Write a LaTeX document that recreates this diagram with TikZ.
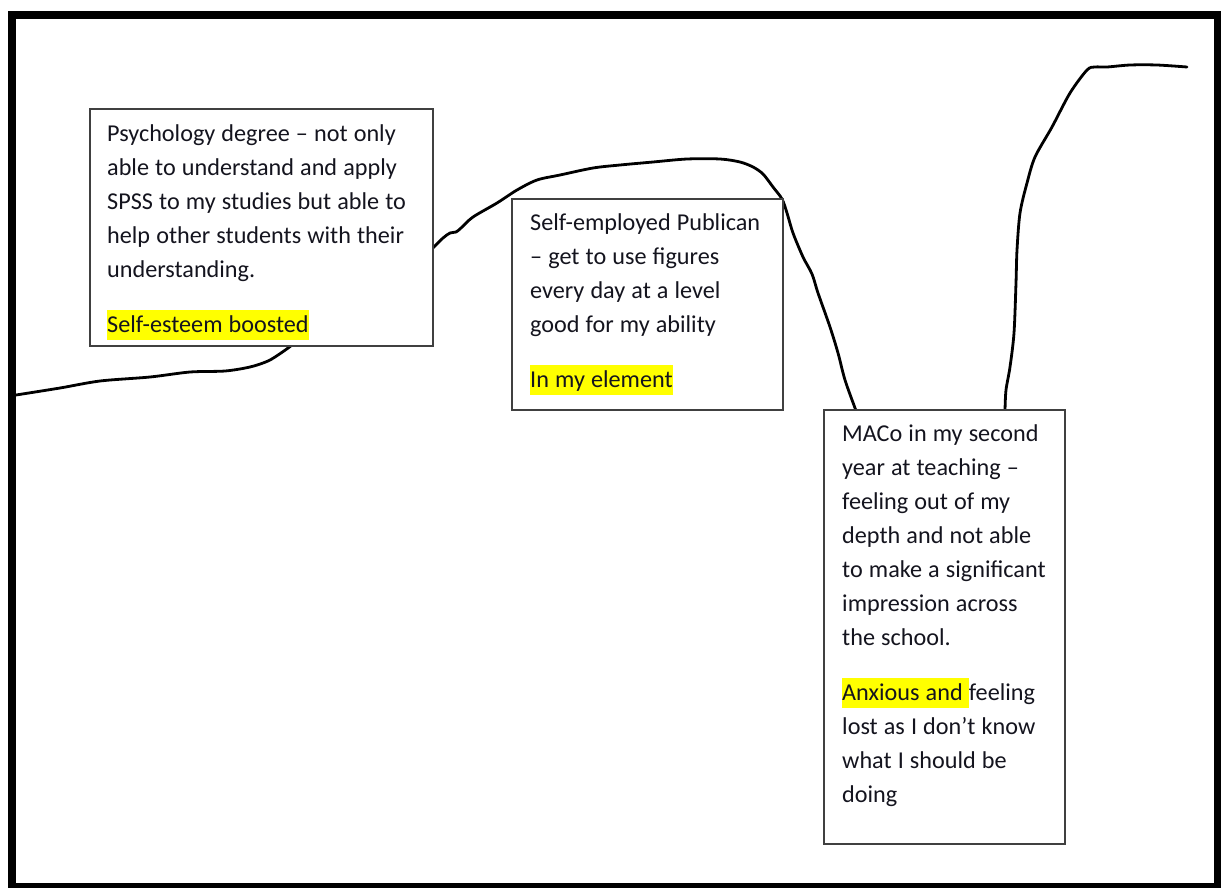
\documentclass[tikz,border=0pt]{standalone}
\usepackage{fontspec}
\setmainfont{Carlito}
\usetikzlibrary{calc}
\definecolor{hlyellow}{RGB}{255,255,0}
\definecolor{boxline}{RGB}{64,64,64}
\definecolor{inktext}{RGB}{20,20,30}
\newcommand{\marked}[1]{{\setlength{\fboxsep}{0pt}\colorbox{hlyellow}{\rule[-8pt]{0pt}{30pt}#1}}}
% plain word spacing inside the ragged text boxes
\newcommand{\boxspacing}{\spaceskip=6.1pt\relax\xspaceskip=6.1pt\relax}
\begin{document}
\begin{tikzpicture}[x=1pt,y=-1pt,
  eventbox/.style={draw=boxline, line width=1.3pt, fill=white, inner sep=0pt, rectangle},
  eventtext/.style={anchor=base west, inner sep=0pt, align=left, text=inktext,
    font=\fontsize{24.2}{34}\selectfont},
  lifeline/.style={line width=2.8pt, line cap=round, line join=round}]
\useasboundingbox (0,0) rectangle (1221,887);
\fill[white] (0,0) rectangle (1221,887);
% outer frame
\draw[line width=8pt] (12,15) rectangle (1218,887);

% the life line, drawn in three stretches that run under the boxes
\draw[lifeline] plot[smooth, tension=0.5] coordinates {
  (16,395) (60,388) (100,381) (150,377) (190,372) (225,371) (250,367)
  (268,361) (281,353) (292,345) (298,339)};
\draw[lifeline] plot[smooth, tension=0.5] coordinates {
  (427,254) (433,248) (443,238) (450,233) (456,232) (461,228) (473,217)
  (497,203) (517,190) (537,180) (560,175) (593,168) (620,165) (653,162)
  (687,159) (720,159) (740,162) (753,167) (763,174) (773,187) (782,199)
  (787,213) (793,233) (803,257) (812,274) (818,293) (830,327) (838,353)
  (845,380) (855,408) (858,416)};
\draw[lifeline] plot[smooth, tension=0.5] coordinates {
  (1005,416) (1005,410) (1006,390) (1010,367) (1014,333) (1016,283)
  (1017,250) (1020,213) (1027,183) (1035,157) (1052,127) (1070,93)
  (1087,70) (1095,67) (1107,67) (1130,65) (1157,65) (1187,67)};

% event boxes
\node[eventbox, minimum width=343pt, minimum height=237pt] (b1) at (261.5,227.5) {};
\node[eventbox, minimum width=271pt, minimum height=211pt] (b2) at (647.5,304.5) {};
\node[eventbox, minimum width=241pt, minimum height=434pt] (b3) at (944.5,627) {};

% event texts
\node[eventtext, text width=320pt] (t1) at (107,141)
  {\boxspacing Psychology degree -- not only\\
   able to understand and apply\\
   SPSS to my studies but able to\\
   help other students with their\\
   understanding.\\[21pt]
   \marked{Self-esteem boosted}};
\node[eventtext, text width=250pt] (t2) at (530,230)
  {\boxspacing Self-employed Publican\\
   -- get to use figures\\
   every day at a level\\
   good for my ability\\[21pt]
   \marked{In my element}};
\node[eventtext, text width=220pt] (t3) at (842,441)
  {\boxspacing MACo in my second\\
   year at teaching --\\
   feeling out of my\\
   depth and not able\\
   to make a significant\\
   impression across\\
   the school.\\[21pt]
   \marked{Anxious and }feeling\\
   lost as I don’t know\\
   what I should be\\
   doing};
\end{tikzpicture}
\end{document}
